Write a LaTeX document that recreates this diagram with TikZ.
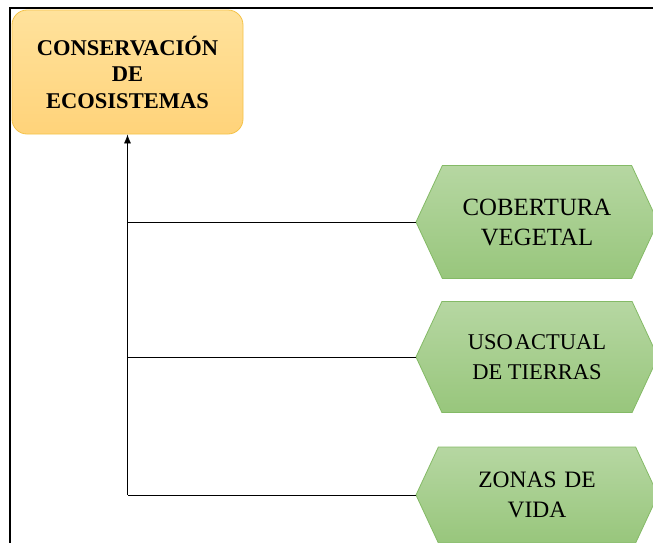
\documentclass[tikz,border=0pt]{standalone}
\usepackage{fontspec}
\setmainfont{Liberation Serif}
\usetikzlibrary{shapes.symbols,arrows.meta,calc}
\definecolor{ecoOrangeTop}{RGB}{255,226,156}
\definecolor{ecoOrangeBot}{RGB}{255,211,122}
\definecolor{ecoOrangeBorder}{RGB}{244,194,72}
\definecolor{ecoGreenTop}{RGB}{182,215,162}
\definecolor{ecoGreenBot}{RGB}{152,198,124}
\definecolor{ecoGreenBorder}{RGB}{132,186,102}
\tikzset{
  hexbox/.style={shape=signal, signal to=west and east, signal pointer angle=130,
    minimum width=242pt, minimum height=113pt, inner sep=0pt,
    top color=ecoGreenTop, bottom color=ecoGreenBot, draw=ecoGreenBorder,
    line width=0.8pt, align=center, font=\fontsize{22.5}{30}\selectfont},
  link/.style={line width=0.8pt, black}
}
\begin{document}
\begin{tikzpicture}[x=1pt,y=-1pt]
    \useasboundingbox (0,0) rectangle (653,542);
    % frame
    \draw[line width=2.2pt] (10,8) rectangle (720,620);
    \node[rounded corners=15pt, top color=ecoOrangeTop, bottom color=ecoOrangeBot,
          draw=ecoOrangeBorder, line width=0.8pt, minimum width=231pt, minimum height=124pt,
          align=center, font=\bfseries\fontsize{22.5}{26.5}\selectfont] (conserv) at (127.5,72)
          {CONSERVACIÓN\\DE\\ECOSISTEMAS};
    \node[hexbox, font=\fontsize{24.8}{30}\selectfont] (cobertura) at (537,222) {COBERTURA\\VEGETAL};
    \node[hexbox, minimum height=111pt] (usoTierras) at (537,357) {USO\hspace{0.08em}ACTUAL\\DE TIERRAS};
    \node[hexbox, minimum height=96pt, font=\fontsize{23.5}{30}\selectfont] (zonasVida) at (537,495)
          {ZONAS\hspace{0.33em}DE\\VIDA};
    \coordinate (trunk) at (conserv.south |- zonasVida.west);
    \draw[link, -{Latex[length=9pt,width=7pt]}] (trunk) -- (conserv.south);
    \draw[link] (cobertura.west) -- (cobertura.west -| conserv.south);
    \draw[link] (usoTierras.west) -- (usoTierras.west -| conserv.south);
    \draw[link] (zonasVida.west) -- (trunk);
  \end{tikzpicture}
\end{document}
